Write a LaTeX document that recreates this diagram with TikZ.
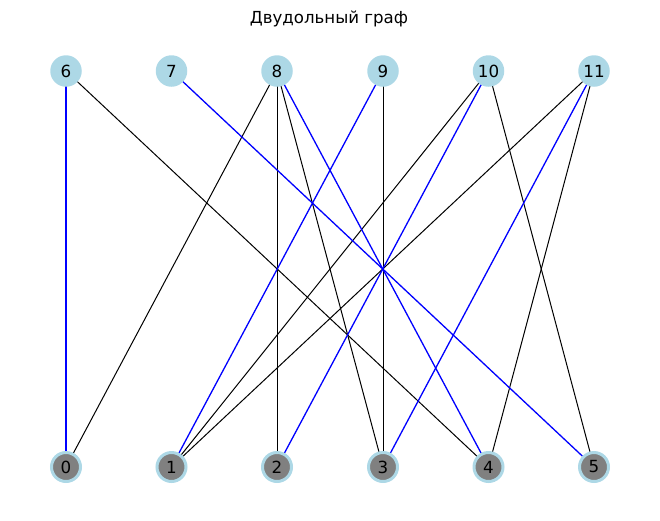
\documentclass[tikz,border=0pt]{standalone}
\usepackage{fontspec}
\setmainfont{DejaVu Sans}
\definecolor{lblue}{HTML}{ADD8E6}
\definecolor{ngray}{HTML}{808080}
\definecolor{eblue}{HTML}{0000FF}
\begin{document}
\begin{tikzpicture}[x=1pt,y=-1pt,
  topnode/.style={circle,fill=lblue,minimum size=31.5pt,inner sep=0pt,font=\fontsize{16.7}{20}\selectfont},
  botnode/.style={circle,fill=ngray,draw=lblue,line width=3pt,minimum size=29pt,inner sep=0pt,font=\fontsize{16.7}{20}\selectfont},
  bedge/.style={draw=black,line width=1pt},
  uedge/.style={draw=eblue,line width=1.3pt}]
\useasboundingbox (0,0) rectangle (660,520);
\node[anchor=base,font=\fontsize{16.6}{20}\selectfont] (title) at (329,23.5) {Двудольный граф};
% edges first (under nodes)
\coordinate (c6) at (66,71);
\coordinate (c7) at (171.5,71);
\coordinate (c8) at (277,71);
\coordinate (c9) at (383,71);
\coordinate (c10) at (488.5,71);
\coordinate (c11) at (594,71);
\coordinate (c0) at (66,467);
\coordinate (c1) at (171.5,467);
\coordinate (c2) at (277,467);
\coordinate (c3) at (383,467);
\coordinate (c4) at (488.5,467);
\coordinate (c5) at (594,467);
\draw[bedge] (c6) -- (c4);
\draw[bedge] (c8) -- (c0);
\draw[bedge] (c8) -- (c2);
\draw[bedge] (c8) -- (c3);
\draw[bedge] (c9) -- (c3);
\draw[bedge] (c10) -- (c1);
\draw[bedge] (c10) -- (c5);
\draw[bedge] (c11) -- (c1);
\draw[bedge] (c11) -- (c4);
\draw[uedge] (c6) -- (c0);
\draw[uedge] (c7) -- (c5);
\draw[uedge] (c8) -- (c4);
\draw[uedge] (c9) -- (c1);
\draw[uedge] (c10) -- (c2);
\draw[uedge] (c11) -- (c3);
% nodes
\node[topnode] (n6) at (c6) {6};
\node[topnode] (n7) at (c7) {7};
\node[topnode] (n8) at (c8) {8};
\node[topnode] (n9) at (c9) {9};
\node[topnode] (n10) at (c10) {10};
\node[topnode] (n11) at (c11) {11};
\node[botnode] (n0) at (c0) {0};
\node[botnode] (n1) at (c1) {1};
\node[botnode] (n2) at (c2) {2};
\node[botnode] (n3) at (c3) {3};
\node[botnode] (n4) at (c4) {4};
\node[botnode] (n5) at (c5) {5};
\end{tikzpicture}
\end{document}
